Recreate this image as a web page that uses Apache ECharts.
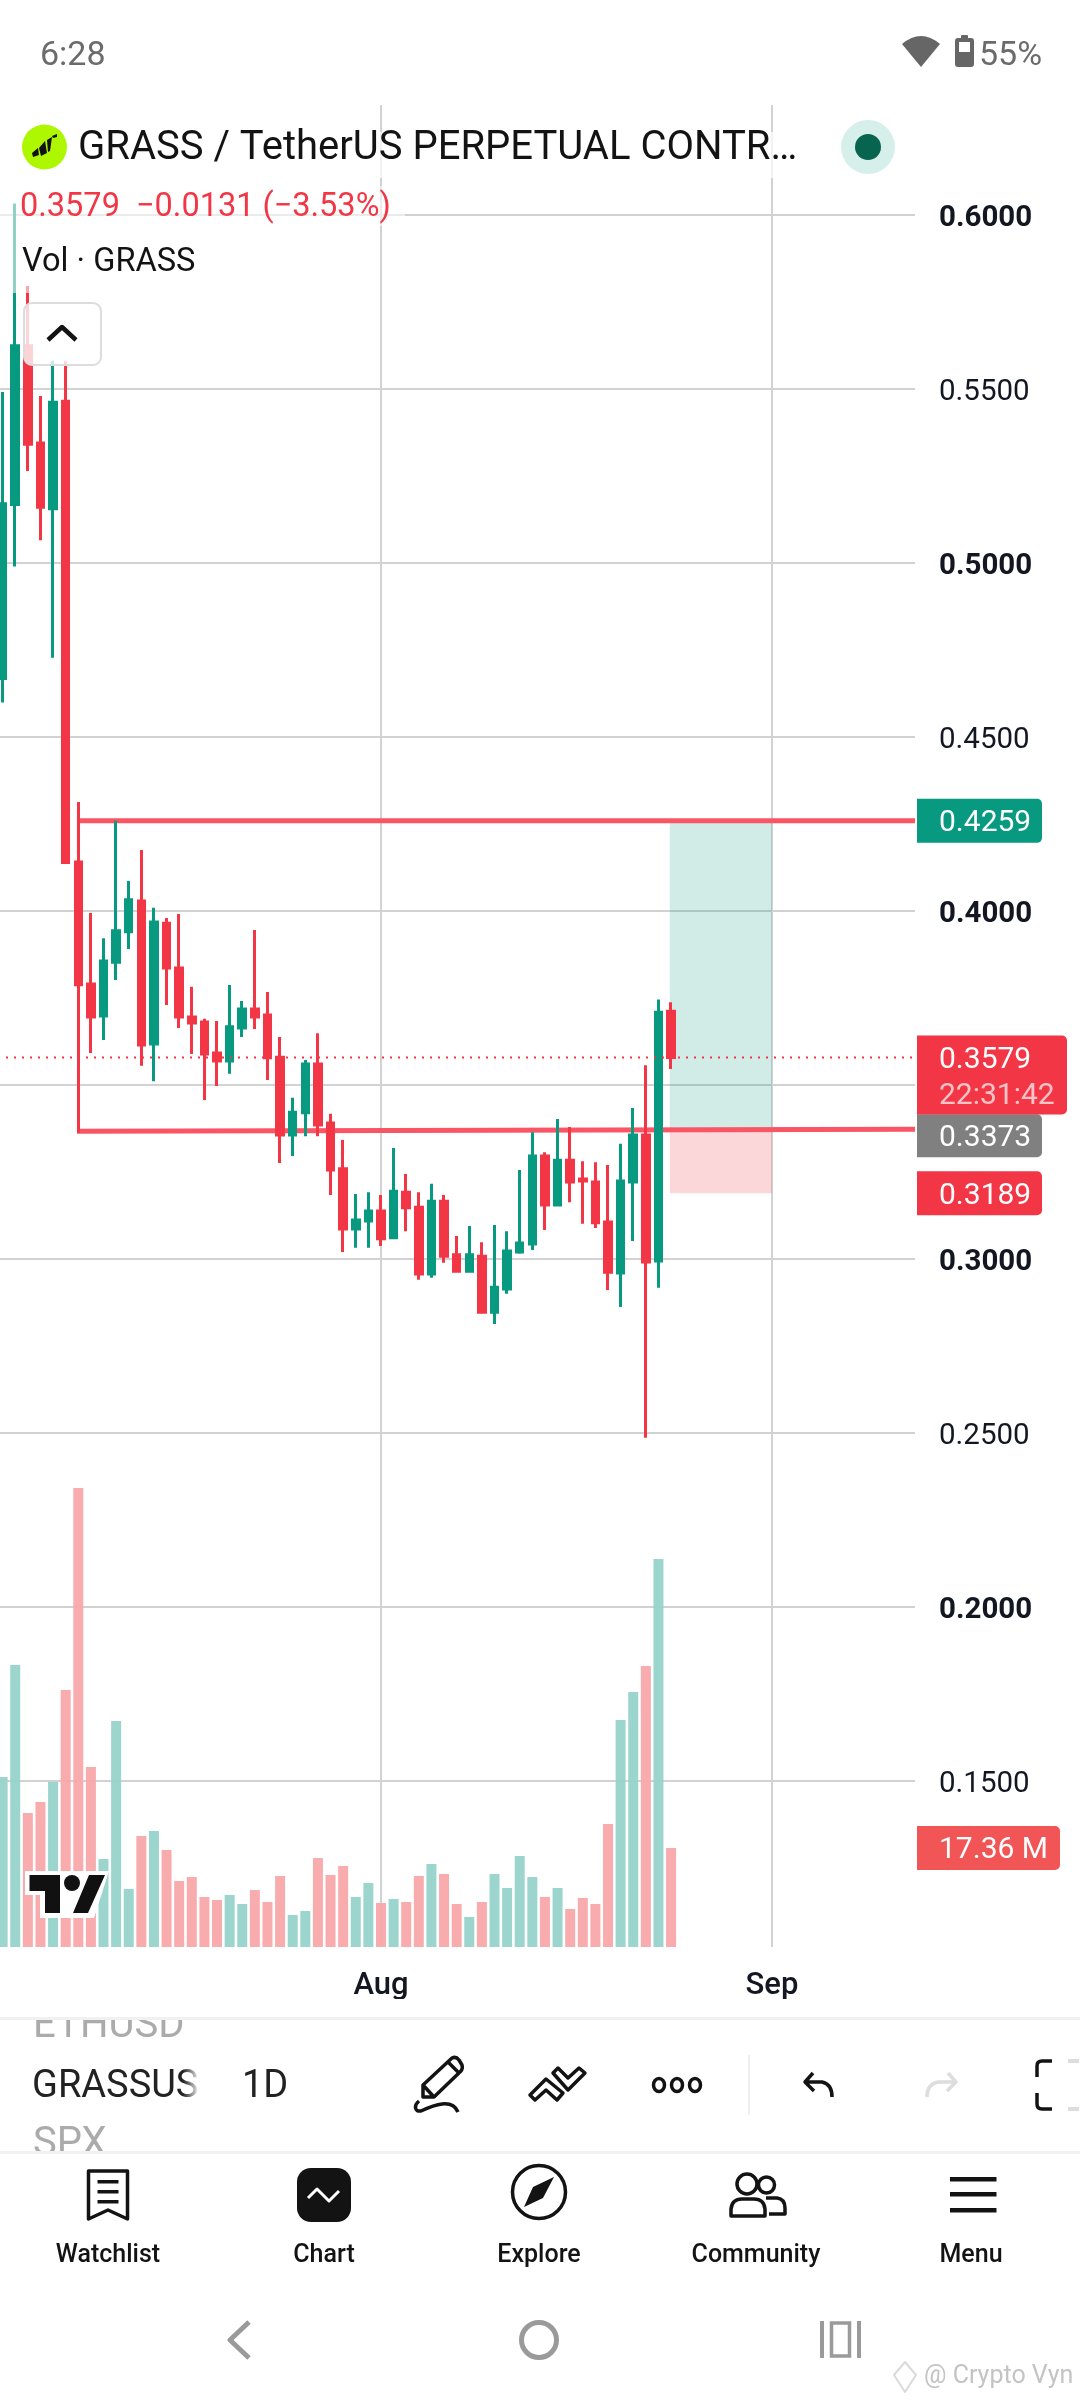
<!DOCTYPE html>
<html><head><meta charset="utf-8">
<style>html,body{margin:0;padding:0;background:#fff}#c{width:1080px;height:2400px}</style>
<script src="https://cdn.jsdelivr.net/npm/echarts@6/dist/echarts.min.js"></script>
</head><body><div id="c"></div>
<script>
// Daily candles, day number counted from 1 July
const days = [1,2,3,4,5,6,7,8,9,10,11,12,13,14,15,16,17,18,19,20,21,22,23,24,25,26,27,28,29,30,31,32,33,34,35,36,37,38,39,40,41,42,43,44,45,46,47,48,49,50,51,52,53,54];
const opens = [.4668,.5168,.5624,.5345,.5156,.5465,.4141,.3790,.3698,.3853,.3940,.4029,.3618,.3965,.3836,.3695,.3681,.3592,.3569,.3664,.3718,.3701,.3580,.3356,.3420,.3560,.3391,.3259,.3086,.3109,.3138,.3061,.3192,.3149,.2957,.3166,.3012,.2965,.3008,.2847,.2914,.3020,.3043,.3296,.3155,.3284,.3230,.3221,.3106,.2960,.3221,.3356,.2994,.3712];
const closes = [.5170,.5624,.5341,.5160,.5462,.4139,.3788,.3695,.3856,.3943,.4032,.3615,.3968,.3836,.3695,.3678,.3589,.3569,.3667,.3718,.3695,.3578,.3356,.3422,.3560,.3385,.3256,.3086,.3112,.3138,.3058,.3195,.3147,.2957,.3166,.3008,.2965,.3012,.2847,.2919,.3023,.3046,.3296,.3155,.3284,.3221,.3224,.3104,.2962,.3224,.3356,.2991,.3709,.3579];
const lows = [.4599,.4990,.5264,.5065,.4728,.4139,.3363,.3592,.3629,.3802,.3891,.3555,.3511,.3730,.3664,.3589,.3457,.3497,.3532,.3638,.3661,.3514,.3276,.3296,.3353,.3353,.3184,.3020,.3032,.3032,.3037,.3058,.3080,.2940,.2946,.2989,.2965,.2965,.2844,.2813,.2900,.3015,.3026,.3083,.3152,.3163,.3101,.3089,.2911,.2862,.3052,.2486,.2917,.3546];
const highs = [.5491,.6033,.5796,.5480,.5581,.5580,.4313,.3994,.3922,.4259,.4086,.4175,.4009,.3980,.3991,.3782,.3690,.3684,.3787,.3741,.3945,.3767,.3638,.3463,.3572,.3649,.3417,.3342,.3187,.3192,.3184,.3319,.3244,.3192,.3216,.3184,.3066,.3095,.3048,.3098,.3080,.3256,.3364,.3307,.3402,.3379,.3281,.3278,.3270,.3331,.3434,.3557,.3746,.3738];
const volumes = [29.81,49.45,23.50,25.43,28.93,45.06,80.49,31.56,15.43,39.63,10.17,19.46,20.34,17.01,11.57,12.27,8.77,8.24,9.12,7.54,9.99,7.89,12.45,5.61,6.31,15.61,12.63,14.20,8.77,11.22,7.72,8.42,7.89,12.45,14.55,12.80,7.54,5.26,7.89,12.80,10.35,15.96,12.27,8.77,10.35,6.66,8.59,7.54,21.57,39.80,44.71,49.27,68.04,17.36];
const volumeTeal = [1,1,0,0,1,0,0,0,1,1,1,0,1,0,0,0,0,0,1,1,0,0,0,1,1,0,0,0,1,1,0,1,0,0,1,0,0,1,0,1,1,1,1,0,1,0,0,0,0,1,1,0,1,0];
const monthTicks = {31:'Aug', 62:'Sep'};
const boldTicks = ['0.6000','0.5000','0.4000','0.3000','0.2000'];
const takeProfit = 0.4259, entry = 0.3373, stopLoss = 0.3189, lastPrice = 0.3579;
const lastVolume = 17.36;
const entryLeft = 0.3367;
const toolStartDay = 6.9, zoneStartDay = 53.9, zoneEndDay = 62, xMax = 73.34;

const UP='#089981', DOWN='#F23645', TOOL='#FA5565', GRID='#D2D2D2', INK='#131722';
const FONT='Roboto';
const chart = echarts.init(document.getElementById('c'), null, {width:1080,height:2400});

const candleData = days.map((d,i)=>[d,opens[i],closes[i],lows[i],highs[i]]);
const volData = days.map((d,i)=>({value:[d,volumes[i]],itemStyle:{color:volumeTeal[i]?'#96D3CB':'#F8A8AA',opacity:.95}}));

const baseOption = {
  animation:false,
  backgroundColor:'#fff',
  grid:[
    {left:-10,width:925,top:105,height:1850,outerBoundsMode:'none'},
    {left:-10,width:925,top:105,height:1842,outerBoundsMode:'none'}
  ],
  xAxis:[
    {gridIndex:0,type:'value',min:0,max:xMax,show:false},
    {gridIndex:1,type:'value',min:0,max:xMax,interval:31,
     axisLine:{show:false},axisTick:{show:false},
     splitLine:{show:true,showMinLine:false,showMaxLine:false,lineStyle:{color:GRID,width:2}},
     axisLabel:{margin:24,fontFamily:FONT,fontSize:31,fontWeight:500,color:INK,
       formatter:v=>monthTicks[Math.round(v)]||''}}
  ],
  yAxis:[
    {gridIndex:0,type:'value',position:'right',min:0.1,max:0.6316,interval:0.05,
     axisLine:{show:false},axisTick:{show:false},
     splitLine:{show:true,showMinLine:false,showMaxLine:false,lineStyle:{color:GRID,width:2}},
     axisLabel:{margin:24,
       formatter:v=>{ if(v<0.14||v>0.61) return ''; const s=v.toFixed(4); return boldTicks.includes(s)?`{b|${s}}`:`{r|${s}}`; },
       rich:{b:{fontFamily:FONT,fontSize:29.5,fontWeight:700,color:INK,padding:[7,0,0,0]},r:{fontFamily:FONT,fontSize:29.5,fontWeight:400,color:INK,padding:[7,0,0,0]}}}},
    {gridIndex:1,type:'value',min:0,max:323,show:false}
  ],
  series:[
    {type:'bar',xAxisIndex:1,yAxisIndex:1,barWidth:10,data:volData,z:2,silent:true},
    {type:'line',xAxisIndex:0,yAxisIndex:0,data:[],z:1,silent:true,
     markArea:{silent:true,data:[
       [{xAxis:zoneStartDay,yAxis:takeProfit,itemStyle:{color:'rgba(8,153,129,.19)'}},{xAxis:zoneEndDay,yAxis:entry}],
       [{xAxis:zoneStartDay,yAxis:entry,itemStyle:{color:'rgba(242,54,69,.2)'}},{xAxis:zoneEndDay,yAxis:stopLoss}]
     ]}},
    {type:'line',xAxisIndex:0,yAxisIndex:0,z:3,silent:true,symbol:'none',
     data:[[toolStartDay,takeProfit],[xMax,takeProfit]],lineStyle:{color:TOOL,width:5}},
    {type:'line',xAxisIndex:0,yAxisIndex:0,z:3,silent:true,symbol:'none',
     data:[[toolStartDay,entryLeft],[xMax,entry]],lineStyle:{color:TOOL,width:5}},
    {type:'candlestick',xAxisIndex:0,yAxisIndex:0,z:4,silent:true,barWidth:7,
     itemStyle:{color:UP,color0:DOWN,borderColor:UP,borderColor0:DOWN,borderWidth:3},
     data:candleData},
    {type:'line',xAxisIndex:0,yAxisIndex:0,z:5,silent:true,symbol:'none',
     data:[[0,lastPrice],[xMax,lastPrice]],lineStyle:{color:DOWN,width:2,type:[2,6]}}
  ]
};
chart.setOption(baseOption);

// ---- page furniture, drawn by one custom series above the chart ----
const py = v=>chart.convertToPixel({yAxisIndex:0},v);
const vy = v=>chart.convertToPixel({yAxisIndex:1},v);
const T=(text,x,y,size,fill,o={})=>({type:'text',silent:true,style:{text,x,y:y+3,fill,fontFamily:FONT,fontSize:size,fontWeight:o.w||400,align:o.a||'left',verticalAlign:'middle'}});
const R=(x,y,w,h,fill,r,o={})=>({type:'rect',silent:true,shape:{x,y,width:w,height:h,r:r||0},style:Object.assign({fill},o.s||{})});
const C=(cx,cy,r,fill,o={})=>({type:'circle',silent:true,shape:{cx,cy,r},style:Object.assign({fill},o.s||{})});
const E=(cx,cy,rx,ry,st,lw)=>({type:'ellipse',silent:true,shape:{cx,cy,rx,ry},style:{fill:'none',stroke:st,lineWidth:lw}});
const P=(d,o={})=>({type:'path',silent:true,shape:{pathData:d},style:{fill:o.fill||'none',stroke:o.st||'none',lineWidth:o.lw||0,lineJoin:'round',lineCap:o.cap||'butt'}});
const INK2='#131313';
const g=[];
// status bar
g.push(T('6:28',40,53,34,'#6B6B6B'));
g.push(P('M902 44Q921 28 940 44L921 67Z',{fill:'#666'}));
g.push(R(961,35,7,4,'#666',1),R(955,38,19,29,'#666',3),R(959,42,11,10,'#fff'));
g.push(T('55%',979,53,34,'#6B6B6B'));
// header
g.push(R(0,132,800,46,'rgba(255,255,255,.7)'));
g.push(R(0,186,405,40,'rgba(255,255,255,.55)'));
g.push(R(0,226,205,67,'rgba(255,255,255,.55)'));
g.push(C(44.5,147,22.5,'#ADF800'));
g.push(P('M32 153L38 148L39 155L33 157ZM39 148L45 141L47 153L41 156ZM47 140L52 137L50 151L48 152ZM52 136L57 134L57 137L53 138Z',{fill:'#111'}));
g.push(T('GRASS / TetherUS PERPETUAL CONTR…',78,146,40,INK2));
g.push(C(868,147,27,'#D7EFEA'),C(868,147,13,'#06644F'));
g.push(T('0.3579  −0.0131 (−3.53%)',20,205,32.5,DOWN));
g.push(T('Vol · GRASS',22,260,32.6,INK2));
g.push(R(24,303,77,62,'rgba(255,255,255,.78)',8,{s:{stroke:'#DCDCDC',lineWidth:2}}));
g.push(P('M48 340L62 327L76 340',{st:INK2,lw:4.5}));
// price tags
const tag=(cy,h,w,fill,txt)=>[R(917,cy-h/2,w,h,fill,[0,5,5,0]),T(txt,939,cy,30,'#fff')];
g.push(...tag(py(takeProfit),44,125,UP,takeProfit.toFixed(4)));
g.push(...tag(py(stopLoss),44,125,DOWN,stopLoss.toFixed(4)));
g.push(...tag(py(entry)+6.5,43,125,'#808080',entry.toFixed(4)));
g.push(R(917,py(lastPrice)-22,150,79,DOWN,[0,5,5,0]));
g.push(T(lastPrice.toFixed(4),939,py(lastPrice),30,'#fff'));
g.push(T('22:31:42',939,py(lastPrice)+36,30,'#FBC3C8'));
g.push(...tag(vy(lastVolume),44,143,'#F15555',lastVolume.toFixed(2)+' M'));
// TradingView mark
g.push(P('M25 1871L109 1871L94 1918L40 1918L40 1895L25 1895Z',{fill:'#fff'}));
g.push(P('M29.5 1875L60 1875L60 1913L45 1913L45 1891L29.5 1891ZM89 1875L105 1875L88 1913L73 1913Z',{fill:'#111'}));
g.push(C(72,1883,8,'#111'));
// symbol toolbar
g.push(T('ETHUSD',33,2024,40,'#ABABAB'));
g.push(T('SPX',33,2142,40,'#ABABAB'));
g.push(R(0,1999,1080,18,'#fff'));
g.push(R(0,2154,1080,8,'#fff'));
g.push(R(0,2017,1080,3,'#F1F1F1'),R(0,2151,1080,3,'#F1F1F1'));
g.push(T('GRASSUS',32,2084,38,'#222',{w:400}));
g.push(R(183,2055,42,60,new echarts.graphic.LinearGradient(0,0,1,0,[{offset:0,color:'rgba(255,255,255,0)'},{offset:.4,color:'#fff'},{offset:1,color:'#fff'}])));
g.push(T('1D',242,2084,38,'#222',{w:400}));
// tools
g.push(P('M423 2085L452 2058Q456 2056 459 2060L462 2065Q463 2068 461 2071L434 2097L423 2097ZM423 2085L434 2097M448 2062L458 2072',{st:INK2,lw:3.5}));
g.push(P('M419 2101C414 2105 414 2112 421 2111C434 2105 452 2098 458 2112',{st:INK2,lw:3.5}));
g.push(P('M530 2095L546 2079L563 2093L557 2100L546 2090L535 2100Z',{st:INK2,lw:3.5}));
g.push(P('M553 2073L558 2068L568 2078L579 2068L585 2073L568 2090Z',{st:INK2,lw:3.5}));
g.push(E(659,2085,5.5,6.5,INK2,3.5),E(677,2085,5.5,6.5,INK2,3.5),E(695,2085,5.5,6.5,INK2,3.5));
g.push(R(748,2055,2,60,'#EFEFEF'));
g.push(P('M813 2073L805 2082L814 2091M805 2082L822 2082Q832 2084 832 2097',{st:INK2,lw:3.5}));
g.push(P('M948 2073L956 2082L947 2091M956 2082L938 2082Q927 2084 927 2097',{st:'#DDDDDD',lw:3.5}));
g.push(P('M1052 2061L1042 2061Q1037 2061 1037 2066L1037 2077M1037 2093L1037 2104Q1037 2109 1042 2109L1052 2109',{st:INK2,lw:3.5}));
g.push(R(1068,2059,11,4,'#DDDDDD'),R(1068,2107,11,4,'#DDDDDD'));
// bottom nav
g.push(P('M88.5 2171L127.5 2171L127.5 2219L108 2210L88.5 2219Z',{st:INK2,lw:3.5}));
g.push(R(97.5,2180,21,3.5,INK2),R(97.5,2190,21,3.5,INK2),R(97.5,2200,21,3.5,INK2));
g.push(R(297,2168,54,54,INK2,14));
g.push(P('M308 2198L317 2189L329 2201L339 2191',{st:'#fff',lw:3}));
g.push(C(539,2192,26.5,'none',{s:{stroke:INK2,lineWidth:3.5}}));
g.push(P('M554 2177L543 2198L524 2207L533 2187Z',{fill:INK2}));
g.push(C(747,2184,10,'none',{s:{stroke:INK2,lineWidth:3.5}}),C(766.5,2185,8,'none',{s:{stroke:INK2,lineWidth:3.5}}));
g.push(P('M766 2198L777 2198Q785 2199 785 2208L785 2214L769 2214',{st:INK2,lw:3.5}));
g.push(P('M731 2216L731 2209Q732 2199 742 2199L754 2199Q764 2199 765 2209L765 2216Z',{st:INK2,lw:3.5}));
g.push(R(950,2177,46.5,4.5,INK2),R(950,2192,46.5,4.5,INK2),R(950,2208,46.5,4.5,INK2));
[['Watchlist',108],['Chart',324],['Explore',539],['Community',756],['Menu',971]].forEach(([s,x])=>g.push(T(s,x,2253,25,INK2,{a:'center',w:500})));
// android nav
g.push(P('M249 2322L230 2340L249 2358',{st:'#9A9A9A',lw:5}));
g.push(C(539,2340,17.5,'none',{s:{stroke:'#9A9A9A',lineWidth:5}}));
g.push(R(820,2321,4,37,'#9A9A9A'),R(857,2321,4,37,'#9A9A9A'));
g.push(R(831.5,2323,18,33,'none',0,{s:{stroke:'#9A9A9A',lineWidth:3.5}}));
// watermark
g.push(P('M905 2362L916 2375L905 2392L894 2375Z',{st:'#DADADA',lw:2}));
g.push(T('@ Crypto Vyn',924,2374,25,'#C4C4C4'));

baseOption.series.push({type:'custom',coordinateSystem:'none',silent:true,z:100,data:[0],clip:false,
  renderItem:()=>({type:'group',children:g})});
chart.setOption({series:baseOption.series});
</script></body></html>
